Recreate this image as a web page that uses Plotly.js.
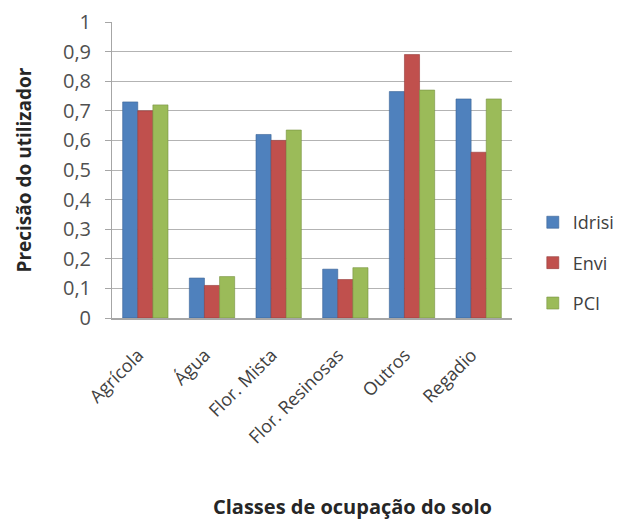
<!DOCTYPE html>
<html>
<head>
<meta charset="utf-8">
<script src="https://cdn.plot.ly/plotly-3.0.1.min.js"></script>
<style>html,body{margin:0;padding:0;background:#fff;}#chart{width:632px;height:522px;}</style>
</head>
<body>
<div id="chart"></div>
<script>
const categories = ["Agrícola", "Água", "Flor. Mista", "Flor. Resinosas", "Outros", "Regadio"];
const seriesNames = ["Idrisi", "Envi", "PCI"];
const idrisi = [0.73, 0.135, 0.62, 0.165, 0.765, 0.74];
const envi   = [0.70, 0.11, 0.60, 0.13, 0.89, 0.56];
const pci    = [0.72, 0.14, 0.635, 0.17, 0.77, 0.74];
const yTickVals = [0, 0.1, 0.2, 0.3, 0.4, 0.5, 0.6, 0.7, 0.8, 0.9, 1];

const colors = ["#4F81BD", "#C0504D", "#9BBB59"];
const lineColors = ["#3A6396", "#963B39", "#779240"];
const values = [idrisi, envi, pci];

const traces = values.map((v, i) => ({
  type: "bar",
  name: seriesNames[i],
  legendgroup: "g" + i,
  x: categories,
  y: v,
  marker: { color: colors[i], line: { color: lineColors[i], width: 0.6 } },
  hoverinfo: "skip"
}));

const layout = {
  width: 632,
  height: 522,
  margin: { l: 112, r: 118, t: 22, b: 204 },
  paper_bgcolor: "#ffffff",
  plot_bgcolor: "#ffffff",
  separators: ", ",
  barmode: "group",
  bargap: 0.32,
  bargroupgap: 0,
  font: { family: "'Open Sans', sans-serif", color: "#404040" },
  showlegend: true,
  legend: {
    x: 1.052, xanchor: "left",
    y: 0.385, yanchor: "top",
    font: { size: 18, color: "#404040" },
    tracegroupgap: 14,
    traceorder: "grouped",
    bgcolor: "rgba(0,0,0,0)"
  },
  xaxis: {
    type: "category",
    tickangle: -45,
    tickfont: { size: 18, color: "#404040" },
    ticklabelstandoff: 18,
    ticklabelshift: -7,
    showline: true,
    linecolor: "#a6a6a6",
    linewidth: 1.5,
    ticks: "",
    showgrid: false,
    zeroline: false
  },
  yaxis: {
    range: [0, 1],
    tickvals: yTickVals,
    tickfont: { size: 20, color: "#505050" },
    showline: true,
    linecolor: "#a6a6a6",
    linewidth: 1,
    ticks: "outside",
    ticklen: 6,
    tickcolor: "#a6a6a6",
    ticklabelstandoff: 10,
    showgrid: true,
    gridcolor: "#b3b3b3",
    gridwidth: 1,
    zeroline: false,
    title: {
      text: "<b>Precisão do utilizador</b>",
      font: { size: 19, color: "#262626" },
      standoff: 26
    }
  },
  annotations: [{
    xref: "paper", yref: "paper",
    x: (354 - 112) / 402, y: (318 - 506) / 296,
    xanchor: "center", yanchor: "middle",
    showarrow: false,
    text: "<b>Classes de ocupação do solo</b>",
    font: { size: 20, color: "#262626" }
  }]
};

Plotly.newPlot("chart", traces, layout, { displayModeBar: false, staticPlot: true });
</script>
</body>
</html>
